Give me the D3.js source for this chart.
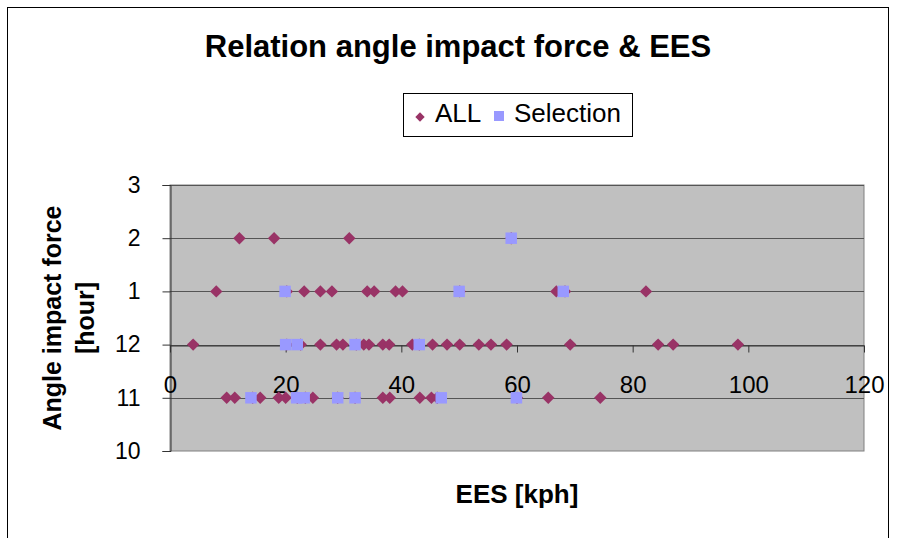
<!DOCTYPE html>
<html>
<head>
<meta charset="utf-8">
<script src="https://cdn.jsdelivr.net/npm/d3@7"></script>
<style>
  html, body { margin: 0; padding: 0; background: #fff; }
  svg { display: block; font-family: "Liberation Sans", Arial, sans-serif; }
</style>
</head>
<body>
<svg id="chart" width="899" height="538"></svg>
<script>
// Impact angle (clock hour) versus EES, all cases and the selected subset
const allEES  = [12, 18, 31, 59,
                 8, 20.2, 23.2, 26, 28, 34.1, 35.3, 39, 40.2, 50.1, 66.8, 68.3, 82.3,
                 4, 20.2, 22.6, 26, 28.8, 29.9, 32.2, 33.5, 34.4, 36.8, 37.9, 41.9, 43.1, 45.4, 47.9, 50.1, 53.4, 55.5, 58.2, 69.2, 84.4, 87, 98.2,
                 9.8, 11.2, 14.3, 15.6, 18.8, 20.0, 22.0, 23.4, 24.7, 29.0, 32.0, 36.8, 38.0, 43.2, 45.2, 46.2, 60, 65.4, 74.4];
const allHour = [2, 2, 2, 2,
                 1, 1, 1, 1, 1, 1, 1, 1, 1, 1, 1, 1, 1,
                 12, 12, 12, 12, 12, 12, 12, 12, 12, 12, 12, 12, 12, 12, 12, 12, 12, 12, 12, 12, 12, 12, 12,
                 11, 11, 11, 11, 11, 11, 11, 11, 11, 11, 11, 11, 11, 11, 11, 11, 11, 11, 11];

const selEES  = [59, 19.9, 50.0, 68.0, 20.0, 22.0, 32.0, 43.1, 14.0, 21.9, 23.2, 29.0, 32.0, 46.9, 59.9];
const selHour = [2, 1, 1, 1, 12, 12, 12, 12, 11, 11, 11, 11, 11, 11, 11];

const xTicks = [0, 20, 40, 60, 80, 100, 120];
const hourLabels = ["10", "11", "12", "1", "2", "3"];

const seriesNames = ["ALL", "Selection"];
const colors = { ALL: "#993366", Selection: "#9999FF" };

// Clock hours laid out on a continuous axis: 10 -> -2, 11 -> -1, 12 -> 0, 1 -> 1 ...
const hourPos = h => (h >= 10 ? h - 12 : h);

const svg = d3.select("#chart");

const plot = { left: 170, right: 864, top: 185, bottom: 451 };
const x = d3.scaleLinear().domain([0, 120]).range([plot.left, plot.right]);
const y = d3.scaleLinear().domain([-2, 3]).range([plot.bottom, plot.top]);

// Chart frame
svg.append("rect")
  .attr("x", 7.5).attr("y", 7.5).attr("width", 881).attr("height", 540)
  .attr("fill", "#fff").attr("stroke", "#000").attr("stroke-width", 1);

// Plot area
svg.append("rect")
  .attr("x", plot.left).attr("y", plot.top)
  .attr("width", plot.right - plot.left).attr("height", plot.bottom - plot.top)
  .attr("fill", "#C0C0C0").attr("stroke", "#808080").attr("stroke-width", 1);

// Horizontal gridlines
const yTickVals = d3.range(-2, 4);
svg.append("g")
  .selectAll("line")
  .data(yTickVals.filter(v => v > -2))
  .join("line")
  .attr("x1", plot.left).attr("x2", plot.right)
  .attr("y1", d => Math.round(y(d)) + 0.5).attr("y2", d => Math.round(y(d)) + 0.5)
  .attr("stroke", "#555").attr("stroke-width", 1);

// Y axis
const yAxis = d3.axisLeft(y)
  .tickValues(yTickVals)
  .tickSize(8)
  .tickPadding(22)
  .tickFormat((d, i) => hourLabels[i]);
const gy = svg.append("g")
  .attr("transform", `translate(${plot.left + 0.5},0)`)
  .call(yAxis);
gy.select(".domain").attr("stroke", "#333");
gy.selectAll(".tick line").attr("stroke", "#333");
gy.selectAll(".tick text")
  .attr("font-size", 23).attr("fill", "#000")
  .attr("font-family", "'Liberation Sans', Arial, sans-serif");

// X axis crossing at 12 o'clock
const xAxis = d3.axisBottom(x)
  .tickValues(xTicks)
  .tickSize(7)
  .tickSizeOuter(0)
  .tickFormat(d3.format("d"));
const gx = svg.append("g")
  .attr("transform", `translate(0,${Math.round(y(0)) + 0.5})`)
  .call(xAxis);
gx.select(".domain").attr("stroke", "#333");
gx.selectAll(".tick line").attr("stroke", "#333");
gx.selectAll(".tick text")
  .attr("y", 47).attr("dy", 0)
  .attr("font-size", 24).attr("fill", "#000")
  .attr("font-family", "'Liberation Sans', Arial, sans-serif");

// Markers
const diamond = d3.symbol().type(d3.symbolDiamond2).size(98);
const square = d3.symbol().type(d3.symbolSquare).size(132);

svg.append("g")
  .selectAll("path")
  .data(allEES.map((v, i) => ({ ees: v, hour: allHour[i] })))
  .join("path")
  .attr("d", diamond)
  .attr("transform", d => `translate(${x(d.ees)},${y(hourPos(d.hour))})`)
  .attr("fill", colors.ALL);

svg.append("g")
  .selectAll("path")
  .data(selEES.map((v, i) => ({ ees: v, hour: selHour[i] })))
  .join("path")
  .attr("d", square)
  .attr("transform", d => `translate(${x(d.ees)},${y(hourPos(d.hour))})`)
  .attr("fill", colors.Selection);

// Title
svg.append("text")
  .attr("x", 458).attr("y", 57)
  .attr("text-anchor", "middle")
  .attr("font-size", 31).attr("font-weight", "bold")
  .text("Relation angle impact force & EES");

// Legend
const legend = svg.append("g");
legend.append("rect")
  .attr("x", 403.5).attr("y", 93.5).attr("width", 229).attr("height", 43)
  .attr("fill", "#fff").attr("stroke", "#000").attr("stroke-width", 1);
legend.append("path")
  .attr("d", d3.symbol().type(d3.symbolDiamond2).size(56))
  .attr("transform", "translate(420,117)")
  .attr("fill", colors.ALL);
legend.append("text")
  .attr("x", 435).attr("y", 122)
  .attr("font-size", 26)
  .text(seriesNames[0]);
legend.append("path")
  .attr("d", d3.symbol().type(d3.symbolSquare).size(100))
  .attr("transform", "translate(499,116)")
  .attr("fill", colors.Selection);
legend.append("text")
  .attr("x", 514).attr("y", 122)
  .attr("font-size", 26)
  .text(seriesNames[1]);

// Axis titles
svg.append("text")
  .attr("x", 517).attr("y", 503)
  .attr("text-anchor", "middle")
  .attr("font-size", 26).attr("font-weight", "bold")
  .text("EES [kph]");

const yTitle = svg.append("text")
  .attr("transform", "translate(0,318) rotate(-90)")
  .attr("text-anchor", "middle")
  .attr("font-size", 25).attr("font-weight", "bold");
yTitle.append("tspan").attr("x", 0).attr("y", 61).text("Angle impact force");
yTitle.append("tspan").attr("x", 0).attr("y", 94).text("[hour]");
</script>
</body>
</html>
